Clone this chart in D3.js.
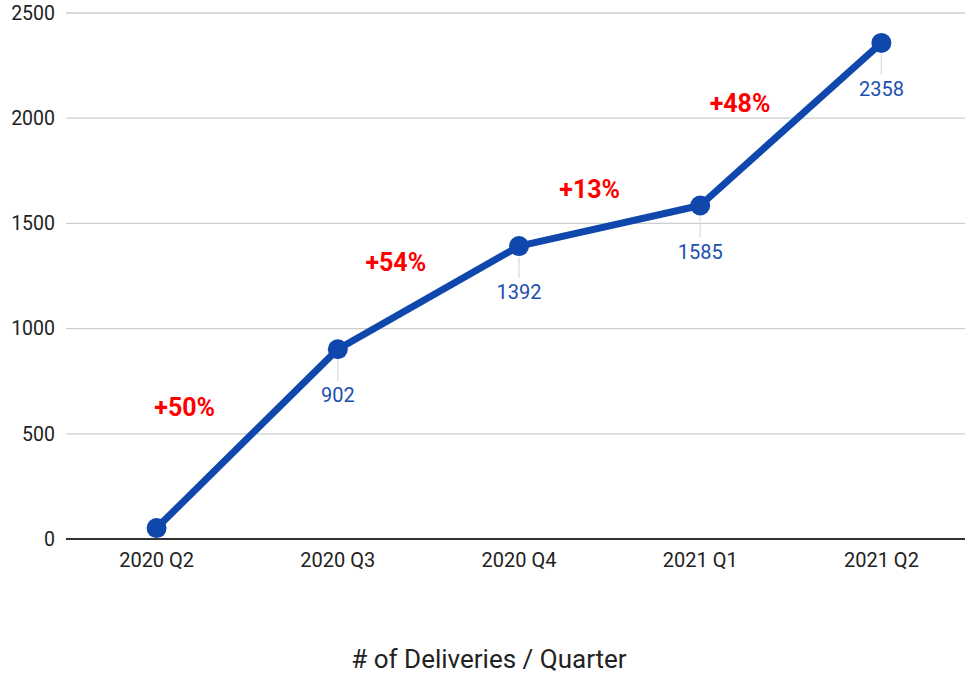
<!DOCTYPE html>
<html><head><meta charset="utf-8">
<script src="https://cdn.jsdelivr.net/npm/d3@7"></script>
<style>html,body{margin:0;padding:0;background:#fff;}svg{display:block;font-family:Roboto,Arial,sans-serif;}</style>
</head><body>
<svg id="chart" width="965" height="673"></svg>
<script>
const categories = ["2020 Q2","2020 Q3","2020 Q4","2021 Q1","2021 Q2"];
const deliveries = [52, 902, 1392, 1585, 2358];
const showLabel = [false, true, true, true, true];
const yTicks = [0, 500, 1000, 1500, 2000, 2500];
const growthText = ["+50%","+54%","+13%","+48%"];
// annotation anchor: fractional category index and value
const growthAt = [0.155, 1.32, 2.39, 3.22];
const growthVal = [585, 1275, 1620, 2030];
const title = "# of Deliveries / Quarter";

(function(){
const svg = d3.select("#chart");
const pLeft = 66, pRight = 972, pTop = 13, pBottom = 539;
const x = d3.scaleBand().domain(categories).range([pLeft, pRight]);
const xc = c => x(c) + x.bandwidth()/2;
const xi = i => x(categories[0]) + x.bandwidth()*(i + 0.5);
const y = d3.scaleLinear().domain([0, 2500]).range([pBottom, pTop]);

// y axis + gridlines
const yAxis = d3.axisLeft(y).tickValues(yTicks).tickFormat(d3.format("d")).tickSize(0).tickPadding(11);
const gy = svg.append("g").attr("transform", `translate(${pLeft},0)`).call(yAxis);
gy.select(".domain").remove();
gy.selectAll("text").attr("font-size", 19.5).attr("fill", "#222").attr("font-family","Roboto, Arial, sans-serif");
svg.append("g").selectAll("line").data(yTicks.filter(t => t > 0)).join("line")
  .attr("x1", pLeft).attr("x2", 965).attr("y1", d => y(d)).attr("y2", d => y(d))
  .attr("stroke", "#cccccc").attr("stroke-width", 1.3);
svg.append("line").attr("x1", pLeft).attr("x2", 965).attr("y1", y(0)).attr("y2", y(0))
  .attr("stroke", "#333").attr("stroke-width", 2);

// x axis
const xAxis = d3.axisBottom(x).tickSize(0).tickPadding(14);
const gx = svg.append("g").attr("transform", `translate(0,${pBottom})`).call(xAxis);
gx.select(".domain").remove();
gx.selectAll("text").attr("font-size", 20).attr("fill", "#222").attr("font-family","Roboto, Arial, sans-serif");

// leader lines
const data = categories.map((c, i) => ({c, v: deliveries[i], s: showLabel[i]}));
svg.append("g").selectAll("line").data(data.filter(d => d.s)).join("line")
  .attr("x1", d => xc(d.c)).attr("x2", d => xc(d.c))
  .attr("y1", d => y(d.v) + 11).attr("y2", d => y(d.v) + 32)
  .attr("stroke", "#dddddd").attr("stroke-width", 1.3);

// line
const line = d3.line().x(d => xc(d.c)).y(d => y(d.v));
svg.append("path").datum(data).attr("d", line).attr("fill", "none")
  .attr("stroke", "#0f47ad").attr("stroke-width", 7).attr("stroke-linejoin", "round");
svg.append("g").selectAll("circle").data(data).join("circle")
  .attr("cx", d => xc(d.c)).attr("cy", d => y(d.v)).attr("r", 10).attr("fill", "#0f47ad");

// value labels
svg.append("g").selectAll("text").data(data.filter(d => d.s)).join("text")
  .attr("x", d => xc(d.c)).attr("y", d => y(d.v) + 53)
  .attr("text-anchor", "middle").attr("font-size", 20).attr("fill", "#1a4fb0")
  .text(d => d.v);

// growth annotations
svg.append("g").selectAll("text").data(growthText).join("text")
  .attr("x", (d, i) => xi(growthAt[i])).attr("y", (d, i) => y(growthVal[i]))
  .attr("text-anchor", "middle").attr("font-size", 25).attr("font-weight", "bold").attr("fill", "#ff0000")
  .text(d => d);

// title
svg.append("text").attr("x", 489).attr("y", 668).attr("text-anchor", "middle")
  .attr("font-size", 26).attr("fill", "#222").text(title);
})();
</script>
</body></html>
